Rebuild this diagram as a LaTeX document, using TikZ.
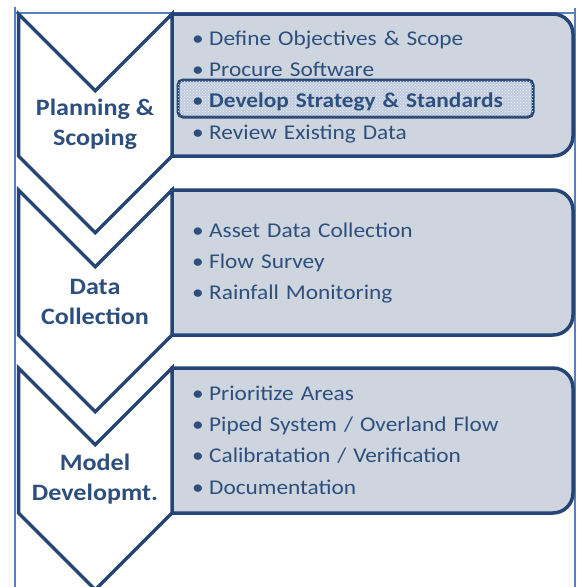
\documentclass[tikz,border=0pt]{standalone}
\usepackage{fontspec}
\setmainfont[FakeStretch=1.11]{Carlito}
\usetikzlibrary{positioning,patterns}
\definecolor{navy}{RGB}{37,69,118}
\definecolor{navytext}{RGB}{45,79,126}
\definecolor{paneFill}{RGB}{207,213,223}
\definecolor{frameBlue}{RGB}{84,130,190}
\definecolor{keyFill}{RGB}{192,204,222}
\newcommand{\taskdot}{\makebox[17pt][l]{\textbullet}}

\begin{document}
\begin{tikzpicture}[x=1pt, y=-1pt,
        chevron/.style={
            draw = navy, line width = 3.5pt, fill = white
        },
        pane/.style={
            draw = navy, line width = 3.5pt, fill = paneFill
        },
        keyframe/.style={
            draw = navy, line width = 3pt, fill = keyFill, rounded corners = 5pt,
            postaction = {pattern = crosshatch dots, pattern color = white!80!keyFill}
        },
        phase/.style={
            align = center, color = navytext, font = \fontsize{23.5}{30}\selectfont\bfseries
        },
        task/.style={
            anchor = west, text width = 350pt, align = left, minimum height = 31pt, inner sep = 0pt,
            text height = 16pt, text depth = 4pt, color = navytext, font = \fontsize{21}{25}\selectfont
        },
    ]
        \useasboundingbox (0,0) rectangle (578,587);

        % outer frame
        \draw[frameBlue, line width = 1.5pt] (15,7) -- (15,590);
        \draw[frameBlue, line width = 1.5pt] (15,13) -- (575,13);
        \draw[frameBlue, line width = 1.5pt] (575,8) -- (575,590);

        % panes
        \draw[pane] (172,14) -- (553,14) arc[start angle=-90, end angle=0, radius=20]
            -- (573,136) arc[start angle=0, end angle=90, radius=20] -- (172,156) -- cycle;
        \draw[pane] (172,190) -- (553,190) arc[start angle=-90, end angle=0, radius=20]
            -- (573,315) arc[start angle=0, end angle=90, radius=20] -- (172,335) -- cycle;
        \draw[pane] (172,368) -- (553,368) arc[start angle=-90, end angle=0, radius=20]
            -- (573,493) arc[start angle=0, end angle=90, radius=20] -- (172,513) -- cycle;
        \draw[keyframe] (178,80) rectangle (533,117);

        % chevrons
        \draw[chevron] (18.5,14) -- (95.25,90.75) -- (172,14) -- (172,156) -- (95.25,232.75) -- (18.5,156) -- cycle;
        \draw[chevron] (18.5,190) -- (95.25,266.75) -- (172,190) -- (172,335) -- (95.25,411.75) -- (18.5,335) -- cycle;
        \draw[chevron] (18.5,368) -- (95.25,444.75) -- (172,368) -- (172,513) -- (95.25,589.75) -- (18.5,513) -- cycle;

        \node (planning) [phase] at (95,124) {Planning \&\\Scoping};
        \node (collection) [phase] at (95,302) {Data\\Collection};
        \node (development) [phase] at (95,479) {Model\\Developmt.};

        % planning tasks
        \node (objectives) [task] at (192,39) {\taskdot Define Objectives \& Scope};
        \node (software) [task,below=0pt of objectives] {\taskdot Procure Software};
        \node (strategy) [task,below=0pt of software] {\taskdot\textbf{Develop Strategy \& Standards}};
        \node (existing) [task,below=0pt of strategy] {\taskdot Review Existing Data};

        % collection tasks
        \node (assets) [task] at (192,231) {\taskdot Asset Data Collection};
        \node (flowSurvey) [task,below=0pt of assets] {\taskdot Flow Survey};
        \node (rainfall) [task,below=0pt of flowSurvey] {\taskdot Rainfall Monitoring};

        % development tasks
        \node (prioritize) [task] at (192,394) {\taskdot Prioritize Areas};
        \node (piped) [task,below=0pt of prioritize] {\taskdot Piped System / Overland Flow};
        \node (calibration) [task,below=0pt of piped] {\taskdot Calibratation / Verification};
        \node (documentation) [task,below=0pt of calibration] {\taskdot Documentation};

    \end{tikzpicture}
\end{document}
